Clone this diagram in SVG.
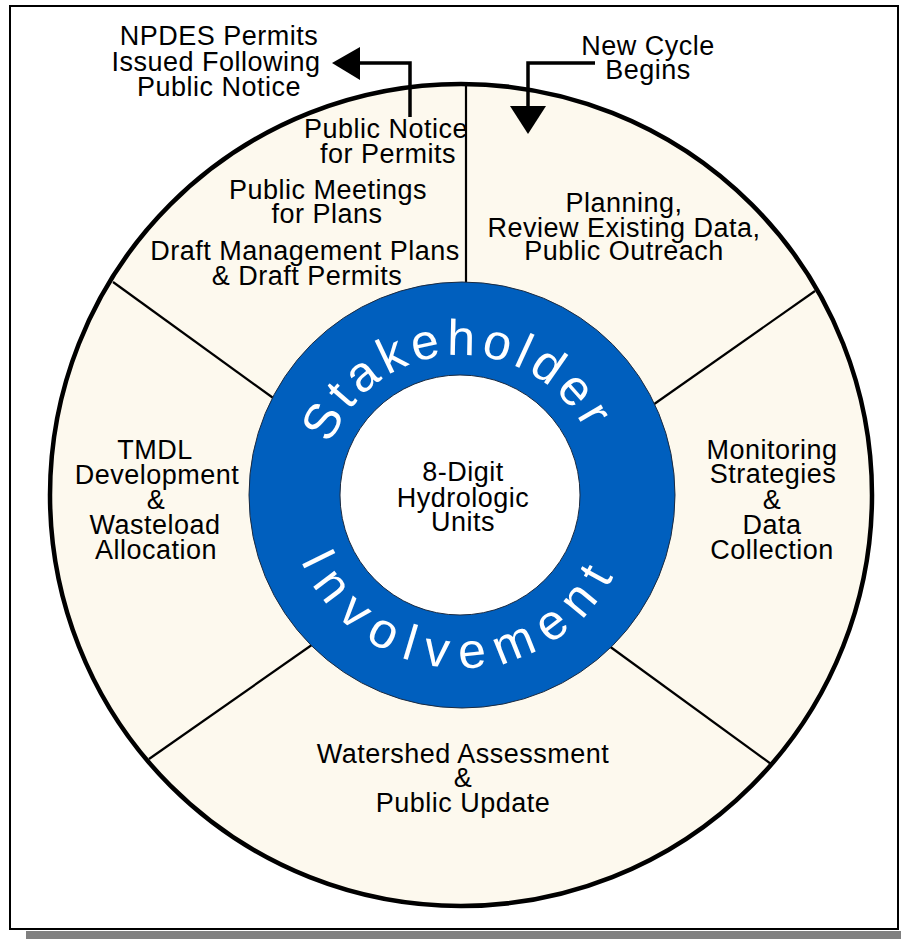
<svg xmlns="http://www.w3.org/2000/svg" xmlns:xlink="http://www.w3.org/1999/xlink" width="901" height="939" viewBox="0 0 901 939">
  <style>
    .lbl { font-family: "Liberation Sans", Arial, sans-serif; font-size: 27px; fill: #000; text-anchor: middle; letter-spacing: 0.5px; }
    .ring { font-family: "Liberation Sans", Arial, sans-serif; font-size: 50px; fill: #fff; text-anchor: middle; }
    .div { stroke: #000; stroke-width: 2.2; fill: none; }
    .arr { stroke: #000; stroke-width: 3.5; fill: none; }
  </style>
  <defs>
    <path id="arcTop" d="M 321,495 A 140,140 0 0 1 601,495"/>
    <path id="arcBot" d="M 288,495 A 173,173 0 0 0 634,495"/>
  </defs>

  <g id="frame">
    <rect x="26" y="931" width="875" height="8" fill="#808080"/>
    <rect x="10" y="6" width="888" height="923" fill="#fff" stroke="#000" stroke-width="2"/>
  </g>

  <g id="wheel">
    <circle cx="461" cy="495" r="411" fill="#FDF9EE" stroke="#000" stroke-width="4.5"/>
  </g>

  <g id="connectors">
    <line class="div" x1="466" y1="86" x2="466" y2="290"/>
    <line class="div" x1="815" y1="291" x2="650" y2="407"/>
    <line class="div" x1="771" y1="764" x2="605" y2="643"/>
    <line class="div" x1="149" y1="759" x2="316" y2="642"/>
    <line class="div" x1="113" y1="282" x2="276" y2="400"/>
    <polyline class="arr" points="410,117 410,63 358,63"/>
    <polygon points="360,47 360,80 332,63" fill="#000"/>
    <polyline class="arr" points="595,63 528,63 528,108"/>
    <polygon points="510,106 546,106 528,134" fill="#000"/>
  </g>

  <g id="center">
    <circle cx="462" cy="495" r="213" fill="#005FBE" stroke="#1a2a40" stroke-width="1"/>
    <circle cx="460" cy="495" r="120" fill="#fff" stroke="#1a2a40" stroke-width="1"/>
    <text class="ring" style="letter-spacing:5.3px"><textPath xlink:href="#arcTop" href="#arcTop" startOffset="48.7%">Stakeholder</textPath></text>
    <text class="ring" style="letter-spacing:12.2px"><textPath xlink:href="#arcBot" href="#arcBot" startOffset="49.4%">Involvement</textPath></text>
    <text class="lbl" x="463" y="481">8-Digit</text>
    <text class="lbl" x="463" y="507">Hydrologic</text>
    <text class="lbl" x="463" y="531">Units</text>
  </g>

  <g id="npdes">
    <text class="lbl" x="219" y="45">NPDES Permits</text>
    <text class="lbl" x="216" y="71">Issued Following</text>
    <text class="lbl" x="219" y="96">Public Notice</text>
  </g>

  <g id="new-cycle">
    <text class="lbl" x="648" y="55">New Cycle</text>
    <text class="lbl" x="648" y="79">Begins</text>
  </g>

  <g id="sector-permits">
    <text class="lbl" x="386" y="138">Public Notice</text>
    <text class="lbl" x="388" y="163">for Permits</text>
    <text class="lbl" x="328" y="199">Public Meetings</text>
    <text class="lbl" x="327" y="223">for Plans</text>
    <text class="lbl" x="305" y="260">Draft Management Plans</text>
    <text class="lbl" x="307" y="285">&amp; Draft Permits</text>
  </g>

  <g id="sector-planning">
    <text class="lbl" x="624" y="212">Planning,</text>
    <text class="lbl" x="624" y="237">Review Existing Data,</text>
    <text class="lbl" x="624" y="260">Public Outreach</text>
  </g>

  <g id="sector-monitoring">
    <text class="lbl" x="772" y="459">Monitoring</text>
    <text class="lbl" x="773" y="483">Strategies</text>
    <text class="lbl" x="772" y="509">&amp;</text>
    <text class="lbl" x="772" y="534">Data</text>
    <text class="lbl" x="772" y="559">Collection</text>
  </g>

  <g id="sector-assessment">
    <text class="lbl" x="463" y="763">Watershed Assessment</text>
    <text class="lbl" x="463" y="787">&amp;</text>
    <text class="lbl" x="463" y="812">Public Update</text>
  </g>

  <g id="sector-tmdl">
    <text class="lbl" x="155" y="459">TMDL</text>
    <text class="lbl" x="157" y="484">Development</text>
    <text class="lbl" x="156" y="509">&amp;</text>
    <text class="lbl" x="155" y="534">Wasteload</text>
    <text class="lbl" x="156" y="559">Allocation</text>
  </g>
</svg>
